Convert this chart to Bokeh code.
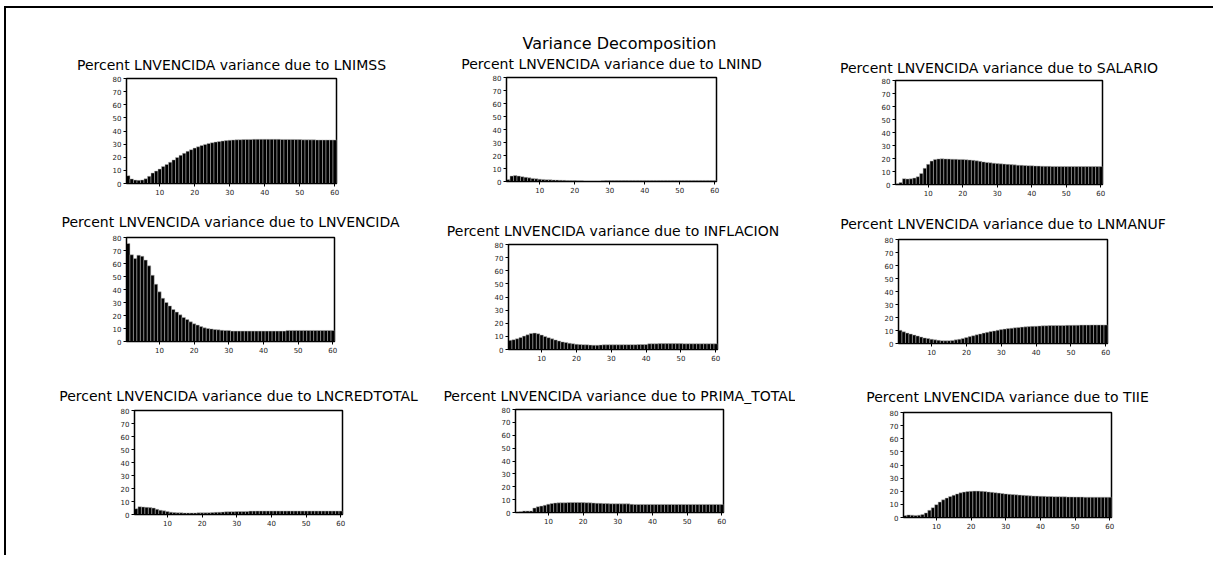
from bokeh.plotting import figure
from bokeh.layouts import column, row
from bokeh.models import Range1d, FixedTicker, Title, ColumnDataSource, Spacer
from bokeh.embed import file_html
from bokeh.resources import INLINE

horizon = list(range(1, 61))

lnimss = [6.0, 3.5, 2.6, 2.4, 2.7, 3.6, 5.5, 8.0, 9.5, 11.0,
          13.0, 14.5, 16.2, 18.0, 19.8, 21.5, 23.0, 24.5, 25.8, 27.0,
          28.0, 29.0, 29.8, 30.5, 31.1, 31.6, 32.0, 32.4, 32.7, 33.0,
          33.2, 33.3, 33.4, 33.5, 33.6, 33.6, 33.7, 33.7, 33.7, 33.7,
          33.7, 33.7, 33.7, 33.7, 33.6, 33.6, 33.6, 33.6, 33.5, 33.5,
          33.3, 33.3, 33.3, 33.3, 33.2, 33.2, 33.2, 33.2, 33.2, 33.2]
lnind = [1.5, 4.2, 4.6, 4.2, 3.7, 3.2, 2.8, 2.4, 2.1, 1.8,
         1.6, 1.4, 1.3, 1.2, 1.1, 1.0, 0.9, 0.8, 0.8, 0.7,
         0.6, 0.5, 0.4, 0.3, 0.2, 0.2, 0.2, 0.6, 0.7, 0.7,
         0.7, 0.7, 0.7, 0.7, 0.7, 0.8, 0.8, 0.8, 0.8, 0.8,
         0.8, 0.8, 0.8, 0.8, 0.8, 0.8, 0.8, 0.8, 0.8, 0.8,
         0.8, 0.8, 0.8, 0.8, 0.8, 0.8, 0.8, 0.8, 0.8, 0.8]
salario = [0.5, 1.5, 4.5, 4.3, 4.4, 5.0, 6.0, 8.5, 12.5, 15.5,
           18.0, 19.3, 19.7, 19.8, 19.7, 19.6, 19.5, 19.4, 19.3, 19.3,
           19.1, 18.9, 18.6, 18.2, 17.8, 17.4, 17.0, 16.7, 16.4, 16.1,
           15.9, 15.7, 15.5, 15.3, 15.1, 14.9, 14.8, 14.6, 14.5, 14.4,
           14.3, 14.2, 14.1, 14.0, 14.0, 13.9, 13.9, 13.9, 13.8, 13.8,
           13.8, 13.8, 13.8, 13.8, 13.8, 13.8, 13.8, 13.8, 13.8, 13.8]
lnvencida = [75.4, 66.7, 63.8, 66.4, 65.6, 62.6, 58.2, 51.0, 44.1, 38.2,
             33.3, 30.0, 27.4, 24.6, 22.6, 20.5, 18.5, 16.9, 15.1, 13.6,
             12.6, 11.5, 10.5, 10.0, 9.7, 9.2, 9.0, 8.7, 8.5, 8.5,
             8.0, 8.0, 8.0, 8.0, 8.0, 8.0, 8.0, 8.0, 8.0, 8.0,
             8.0, 8.0, 8.0, 8.0, 8.0, 8.0, 8.5, 8.5, 8.5, 8.5,
             8.5, 8.5, 8.5, 8.5, 8.5, 8.5, 8.5, 8.5, 8.5, 8.5]
inflacion = [7.0, 7.5, 8.2, 9.2, 10.2, 11.2, 12.2, 12.5, 12.0, 11.0,
             10.0, 9.0, 8.1, 7.3, 6.5, 5.8, 5.3, 4.8, 4.4, 4.0,
             3.8, 3.7, 3.6, 3.4, 3.3, 3.3, 3.5, 3.6, 3.6, 3.6,
             3.6, 3.6, 3.6, 3.7, 3.7, 3.7, 3.7, 3.8, 3.8, 3.8,
             4.4, 4.4, 4.4, 4.5, 4.5, 4.5, 4.5, 4.5, 4.5, 4.5,
             4.4, 4.4, 4.4, 4.4, 4.4, 4.4, 4.4, 4.4, 4.4, 4.4]
lnmanuf = [10.2, 9.0, 8.0, 7.3, 6.5, 5.8, 5.0, 4.3, 3.8, 3.3,
           2.8, 2.5, 2.2, 2.1, 2.2, 2.4, 2.8, 3.3, 3.9, 4.6,
           5.3, 6.0, 6.7, 7.4, 8.0, 8.6, 9.2, 9.7, 10.2, 10.7,
           11.1, 11.5, 11.8, 12.1, 12.4, 12.6, 12.8, 13.0, 13.2, 13.3,
           13.5, 13.6, 13.7, 13.8, 13.8, 13.9, 13.9, 13.9, 14.0, 14.0,
           14.1, 14.1, 14.2, 14.2, 14.2, 14.3, 14.3, 14.3, 14.3, 14.3]
lncredtotal = [4.5, 6.0, 5.8, 5.5, 5.3, 5.0, 4.0, 3.3, 2.8, 2.3,
               1.8, 1.5, 1.3, 1.3, 1.2, 1.2, 1.2, 1.2, 1.3, 1.3,
               1.3, 1.4, 1.6, 1.7, 1.8, 1.9, 2.1, 2.2, 2.2, 2.3,
               2.3, 2.3, 2.4, 2.6, 2.6, 2.7, 2.7, 2.7, 2.7, 2.7,
               2.7, 2.7, 2.7, 2.7, 2.7, 2.7, 2.7, 2.7, 2.7, 2.7,
               2.7, 2.7, 2.7, 2.7, 2.7, 2.7, 2.7, 2.7, 2.7, 2.7]
prima_total = [0.4, 0.5, 1.2, 1.2, 1.2, 3.5, 4.5, 5.0, 5.7, 6.5,
               7.0, 7.4, 7.5, 7.6, 7.6, 7.8, 7.8, 7.8, 7.8, 7.7,
               7.6, 7.5, 7.4, 7.2, 7.1, 7.0, 6.9, 6.8, 6.8, 6.8,
               6.7, 6.7, 6.7, 6.4, 6.3, 6.3, 6.3, 6.3, 6.3, 6.3,
               6.3, 6.3, 6.3, 6.3, 6.3, 6.3, 6.3, 6.3, 6.3, 6.3,
               6.3, 6.3, 6.3, 6.3, 6.3, 6.3, 6.3, 6.3, 6.3, 6.3]
tiie = [1.5, 2.0, 1.8, 1.6, 1.8, 2.3, 3.5, 5.5, 7.5, 9.8,
        11.8, 13.5, 14.8, 16.0, 17.0, 18.0, 18.8, 19.4, 19.8, 20.0,
        20.1, 20.1, 20.0, 19.8, 19.5, 19.2, 18.9, 18.6, 18.3, 18.0,
        17.7, 17.5, 17.3, 17.1, 16.9, 16.7, 16.5, 16.4, 16.3, 16.2,
        16.1, 16.0, 16.0, 15.9, 15.9, 15.8, 15.8, 15.7, 15.7, 15.6,
        15.6, 15.6, 15.5, 15.5, 15.5, 15.5, 15.5, 15.5, 15.5, 15.5]

main_title = "Variance Decomposition"
title_prefix = "Percent LNVENCIDA variance due to "
shocks = ["LNIMSS", "LNIND", "SALARIO", "LNVENCIDA", "INFLACION",
          "LNMANUF", "LNCREDTOTAL", "PRIMA_TOTAL", "TIIE"]
series = [lnimss, lnind, salario, lnvencida, inflacion,
          lnmanuf, lncredtotal, prima_total, tiie]
x_ticks = [10, 20, 30, 40, 50, 60]
y_ticks = [0, 10, 20, 30, 40, 50, 60, 70, 80]

FONT = "DejaVu Sans"

# grid cells start at (6, 8) on the page
col_w = [424, 365, 409]
row_h = [193, 171, 183]
# frame borders inside each cell: (left, right, top, bottom)
borders = [
    (120, 94, 70, 18), (76, 79, 69, 20), (100, 102, 72, 17),
    (120, 96, 36, 31), (78, 78, 43, 23), (103, 97, 38, 29),
    (128, 88, 38, 41), (85, 72, 37, 43), (108, 93, 40, 38),
]
title_gap = [11, 11, 9, 15, 11, 15, 13, 11, 15]


def make_panel(i):
    r, c = divmod(i, 3)
    bl, br, bt, bb = borders[i]
    p = figure(width=col_w[c], height=row_h[r],
               x_range=Range1d(0.5, 60.5), y_range=Range1d(0, 80),
               toolbar_location=None, output_backend="svg",
               min_border_left=bl, min_border_right=br,
               min_border_top=bt, min_border_bottom=bb,
               background_fill_color="white", border_fill_color="white",
               outline_line_color="black", outline_line_width=1.5)
    sub = Title(text=title_prefix + shocks[i], align="center",
                text_font=FONT, text_font_size="14px",
                text_font_style="normal", text_color="black",
                standoff=title_gap[i])
    if i == 1:
        p.title = Title(text=main_title, align="left", offset=16,
                        text_font=FONT, text_font_size="16px",
                        text_font_style="normal", text_color="black",
                        standoff=-9)
        p.add_layout(sub, "above")
    else:
        p.title = sub
    src = ColumnDataSource(dict(h=horizon, v=series[i]))
    p.vbar(x="h", top="v", width=1.0, bottom=0, source=src,
           fill_color="black", line_color="#b8b8b8", line_width=0.5)
    p.xgrid.visible = False
    p.ygrid.visible = False
    for ax in (p.xaxis[0], p.yaxis[0]):
        ax.minor_tick_line_color = None
        ax.major_tick_in = 0
        ax.major_tick_out = 3
        ax.axis_line_color = "black"
        ax.major_tick_line_color = "black"
        ax.major_label_text_font = FONT
        ax.major_label_text_font_size = "7px"
        ax.major_label_text_color = "#222222"
        ax.major_label_standoff = 2
    p.xaxis[0].ticker = FixedTicker(ticks=x_ticks)
    p.yaxis[0].ticker = FixedTicker(ticks=y_ticks)
    return p


panels = [column(make_panel(i)) for i in range(9)]
grid_w = sum(col_w)
grid_h = sum(row_h)
black = {"background-color": "black"}
top_rule = Spacer(width=grid_w + 11, height=2, styles=black)
left_rule = Spacer(width=2, height=grid_h, styles=black)
grid = column(row(panels[0:3]), row(panels[3:6]), row(panels[6:9]))
framed = column(top_rule, row(left_rule, grid))
layout = column(Spacer(width=grid_w + 6, height=6),
                row(Spacer(width=4, height=grid_h + 2), framed))

open("out.html", "w").write(file_html(layout, INLINE))
